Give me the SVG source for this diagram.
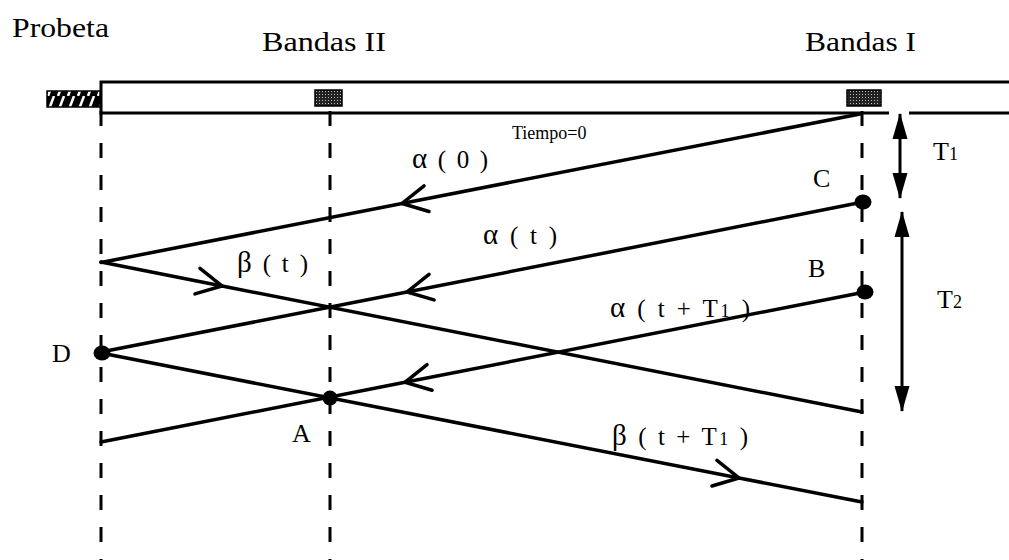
<svg xmlns="http://www.w3.org/2000/svg" width="1009" height="560" viewBox="0 0 1009 560">
<style>
text{font-family:"Liberation Serif","Times New Roman",serif;fill:#000}
.hdr{font-size:27px}
.lbl{font-size:26px}
.wave{font-size:25px}
.gk{font-size:29px}
.small{font-size:18px}
.sub{font-size:18px}
.bar{stroke:#000;stroke-width:3;fill:none}
.dash{stroke:#000;stroke-width:3;fill:none;stroke-dasharray:15 17}
.ray{stroke:#000;stroke-width:3.5;fill:none;stroke-linecap:round;stroke-linejoin:round;marker-mid:url(#vee)}
.tline{stroke:#000;stroke-width:3;fill:none}
.dot{fill:#000}
</style>
<defs>
<marker id="vee" markerUnits="userSpaceOnUse" viewBox="-30 -16 34 32" markerWidth="34" markerHeight="32" refX="0" refY="0" orient="auto" overflow="visible">
<path d="M-25 -13 L0 0 L-25 13" fill="none" stroke="#000" stroke-width="3.5" stroke-linecap="round" stroke-linejoin="miter"/>
</marker>
<marker id="tri" markerUnits="userSpaceOnUse" viewBox="-26 -8 27 16" markerWidth="27" markerHeight="16" refX="0" refY="0" orient="auto-start-reverse" overflow="visible">
<path d="M1 0 L-25 -7.5 L-25 7.5 Z" fill="#000"/>
</marker>
<pattern id="hatch" patternUnits="userSpaceOnUse" width="10" height="16">
<rect width="10" height="16" fill="#000"/>
<path d="M-2 16 L4 0 M8 16 L14 0" stroke="#fff" stroke-width="2.5"/>
</pattern>
<pattern id="stip" patternUnits="userSpaceOnUse" width="3" height="3">
<rect width="3" height="3" fill="#222"/>
<rect x="1" y="1" width="1" height="1" fill="#bbb"/>
</pattern>
</defs>

<g id="headers">
<text class="hdr" x="12" y="37" textLength="97" lengthAdjust="spacingAndGlyphs">Probeta</text>
<text class="hdr" x="262" y="51" textLength="124" lengthAdjust="spacingAndGlyphs">Bandas II</text>
<text class="hdr" x="805" y="51" textLength="111" lengthAdjust="spacingAndGlyphs">Bandas I</text>
</g>

<g id="probeta">
<path class="bar" d="M1009 82 L101 82 L101 113 L889 113 M909 113 L1009 113"/>
<rect x="47" y="91" width="53" height="16" fill="url(#hatch)" stroke="#000" stroke-width="1.5"/>
</g>
<g id="bandas-II">
<rect x="315" y="90" width="27" height="16" fill="url(#stip)" stroke="#000" stroke-width="1.5"/>
</g>
<g id="bandas-I">
<rect x="847" y="90" width="34" height="16" fill="url(#stip)" stroke="#000" stroke-width="1.5"/>
</g>

<g id="guides">
<line class="dash" x1="101" y1="111" x2="101" y2="560"/>
<line class="dash" x1="330" y1="111" x2="330" y2="560"/>
<line class="dash" x1="862" y1="111" x2="862" y2="560"/>
</g>

<g id="connectors">
<path id="alpha0" class="ray" d="M860 114 L402 203.5 L101 262.5"/>
<path id="betat" class="ray" d="M101 262 L222 286 L862 412"/>
<path id="alphat" class="ray" d="M863 202 L407 292 L101 352"/>
<path id="alphatT1" class="ray" d="M865 292 L405 382.3 L101 442"/>
<path id="betatT1" class="ray" d="M101 353 L739 478 L862 502"/>
<line id="T1" class="tline" x1="900" y1="114" x2="900" y2="198" marker-start="url(#tri)" marker-end="url(#tri)"/>
<line id="T2" class="tline" x1="902" y1="212" x2="902" y2="411" marker-start="url(#tri)" marker-end="url(#tri)"/>
</g>

<g id="point-C">
<ellipse class="dot" cx="863" cy="202" rx="8.5" ry="7.5"/>
<text class="lbl" x="813" y="187">C</text>
</g>
<g id="point-B">
<ellipse class="dot" cx="865" cy="292" rx="8.5" ry="7.5"/>
<text class="lbl" x="808" y="277">B</text>
</g>
<g id="point-D">
<ellipse class="dot" cx="102" cy="353" rx="8.5" ry="7.5"/>
<text class="lbl" x="52" y="362">D</text>
</g>
<g id="point-A">
<ellipse class="dot" cx="330" cy="398" rx="7.5" ry="7.5"/>
<text class="lbl" x="292" y="442">A</text>
</g>

<g id="labels">
<text class="small" x="512" y="139">Tiempo=0</text>
<text class="wave" x="412" y="168" textLength="76" lengthAdjust="spacing"><tspan class="gk">α</tspan> ( 0 )</text>
<text class="wave" x="483" y="244" textLength="74" lengthAdjust="spacing"><tspan class="gk">α</tspan> ( t )</text>
<text class="wave" x="237" y="272" textLength="71" lengthAdjust="spacing"><tspan class="gk">β</tspan> ( t )</text>
<text class="wave" x="610" y="317" textLength="140" lengthAdjust="spacing"><tspan class="gk">α</tspan> ( t + T<tspan class="sub">1</tspan> )</text>
<text class="wave" x="612" y="445" textLength="136" lengthAdjust="spacing"><tspan class="gk">β</tspan> ( t + T<tspan class="sub">1</tspan> )</text>
<text class="lbl" x="933" y="160">T<tspan class="sub">1</tspan></text>
<text class="lbl" x="937" y="308">T<tspan class="sub">2</tspan></text>
</g>
</svg>
